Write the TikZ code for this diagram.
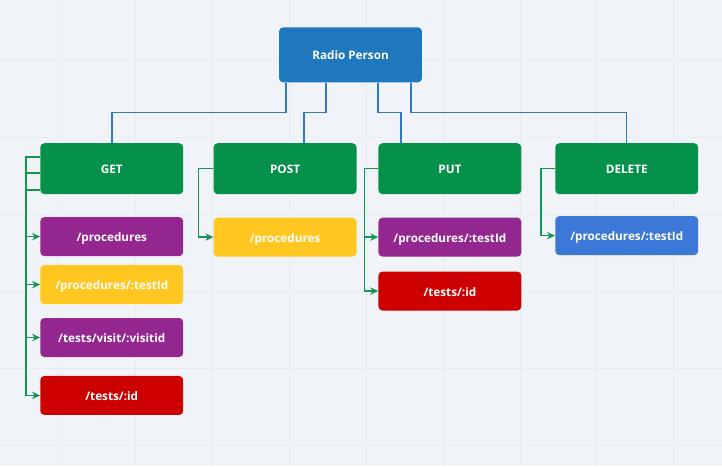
\documentclass[tikz,border=0pt]{standalone}
\usepackage{fontspec}
\setmainfont{Open Sans}
\usetikzlibrary{arrows.meta,calc}
\definecolor{bg}{HTML}{F0F4F8}
\definecolor{gridc}{HTML}{E7ECF1}
\definecolor{rootc}{HTML}{1F77BD}
\definecolor{methc}{HTML}{05914A}
\definecolor{purp}{HTML}{93278F}
\definecolor{yell}{HTML}{FFC720}
\definecolor{redc}{HTML}{CC0000}
\definecolor{bluec}{HTML}{3C78D8}
\definecolor{linkb}{HTML}{2E7BC2}
\definecolor{linkg}{HTML}{13964F}
\begin{document}
\begin{tikzpicture}[x=0.75pt,y=-0.75pt,
	every node/.style={rectangle,rounded corners=3pt,minimum width=107.25pt,inner sep=0,
		text height=1.6ex,text depth=0.2ex,
		text=white,font=\bfseries\fontsize{8.8}{10}\selectfont},
	meth/.style={fill=methc,minimum height=38.25pt},
	leaf/.style={minimum height=29.25pt},
	tree/.style={linkb,line width=1.1pt},
	arr/.style={linkg,line width=1.1pt,-{Stealth[length=6pt,width=5.5pt]}}]
\fill[bg] (0,0) rectangle (722,466);
\foreach \gx in {58,135,212,289,366,444,521,597,674}
	\draw[gridc,line width=0.6pt] (\gx,0) -- (\gx,466);
\foreach \gy in {60,137,214,291,368,445}
	\draw[gridc,line width=0.6pt] (0,\gy) -- (722,\gy);
\node[fill=rootc,minimum height=41.25pt] (root) at (350.5,54.5) {Radio Person};
\node[meth] (get) at (111.5,168.5) {GET};
\node[meth] (post) at (285,168.5) {POST};
\node[meth] (put) at (450,168.5) {PUT};
\node[meth] (del) at (627,168.5) {DELETE};
\node[leaf,fill=purp] (g1) at (111.5,236.5) {/procedures};
\node[leaf,fill=yell] (g2) at (111.5,284.5) {/procedures/:testId};
\node[leaf,fill=purp] (g3) at (111.5,337.5) {/tests/visit/:visitid};
\node[leaf,fill=redc] (g4) at (111.5,395.5) {/tests/:id};
\node[leaf,fill=yell] (p1) at (285,237) {/procedures};
\node[leaf,fill=purp] (u1) at (450,237) {/procedures/:testId};
\node[leaf,fill=redc] (u2) at (450,291) {/tests/:id};
\node[leaf,fill=bluec] (d1) at (627,235.5) {/procedures/:testId};
\draw[tree] ($(root.south)+(-64.5,0)$) -- ++(0,30) -| (get.north);
\draw[tree] ($(root.south)+(-24.5,0)$) -- ++(0,30) -| ($(post.north)+(19,0)$);
\draw[tree] ($(root.south)+(27.5,0)$) -- ++(0,30) -| ($(put.north)+(-49,0)$);
\draw[tree] ($(root.south)+(60.5,0)$) -- ++(0,30) -| (del.north);
\draw[arr] ($(get.west)+(0,-11.5)$) -- ++(-14,0) |- (g1.west);
\draw[arr] ($(get.west)+(0,4.5)$) -- ++(-14,0) |- (g2.west);
\draw[arr] ($(get.west)+(0,21.5)$) -- ++(-14,0) |- (g3.west);
\draw[arr] ($(get.west)+(0,-11.5)$) -- ++(-14,0) |- (g4.west);
\draw[arr] (post.west) -- ++(-15,0) |- (p1.west);
\draw[arr] (put.west) -- ++(-14,0) |- (u1.west);
\draw[arr] (put.west) -- ++(-14,0) |- (u2.west);
\draw[arr] (del.west) -- ++(-14,0) |- (d1.west);
\end{tikzpicture}
\end{document}
